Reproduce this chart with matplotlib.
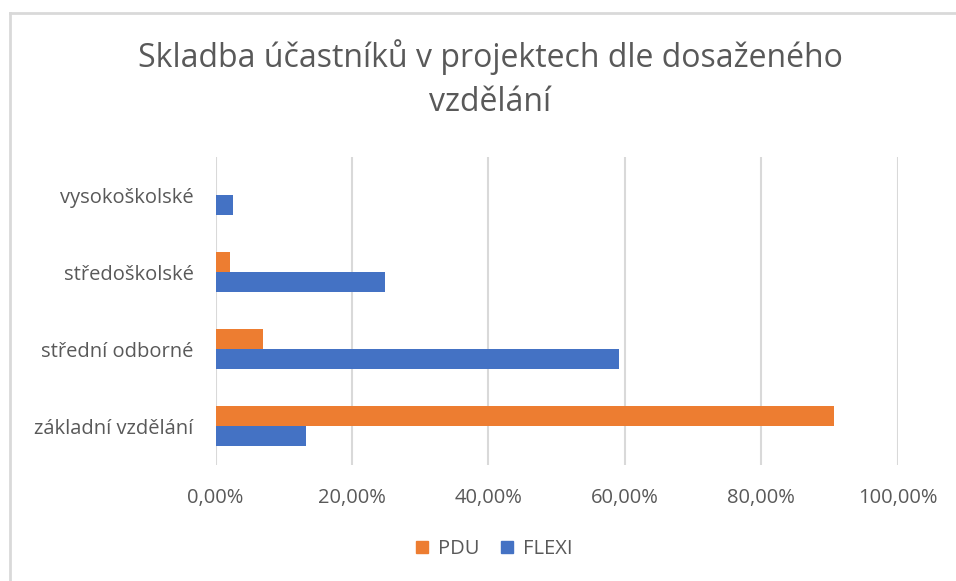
import matplotlib
matplotlib.use("Agg")
import matplotlib.pyplot as plt
from matplotlib.lines import Line2D
from matplotlib.ticker import FuncFormatter
import numpy as np

categories = ["základní vzdělání", "střední odborné", "středoškolské", "vysokoškolské"]
pdu = [0.907, 0.070, 0.021, 0.0]
flexi = [0.132, 0.591, 0.249, 0.025]

orange = "#ed7d31"
blue = "#4472c4"
grey = "#595959"

plt.rcParams["font.family"] = ["Open Sans", "DejaVu Sans"]

fig = plt.figure(figsize=(9.56, 5.81), dpi=100)
ax = fig.add_axes([0.2256, 0.2005, 0.939 - 0.2256, 0.7306 - 0.2005])

y = np.arange(len(categories))
h = 0.26
ax.barh(y + h / 2, pdu, height=h, color=orange, label="PDU", zorder=3)
ax.barh(y - h / 2, flexi, height=h, color=blue, label="FLEXI", zorder=3)

ax.set_xlim(0, 1)
ax.set_ylim(-0.5, 3.5)
ax.set_xticks(np.arange(0, 1.01, 0.2))
ax.xaxis.set_major_formatter(FuncFormatter(lambda v, p: f"{v * 100:.2f}".replace(".", ",") + "%"))
ax.set_yticks(y)
ax.set_yticklabels(categories)
ax.tick_params(axis="both", length=0, labelsize=14.5, colors=grey)
ax.tick_params(axis="x", pad=17)
ax.tick_params(axis="y", pad=16)
ax.grid(axis="x", color="#d9d9d9", linewidth=1.5, zorder=0)
for s in ax.spines.values():
    s.set_visible(False)

fig.text(0.513, 0.864, "Skladba účastníků v projektech dle dosaženého\nvzdělání",
         ha="center", va="center", fontsize=23, color=grey, linespacing=1.42)

handles = [plt.Rectangle((0, 0), 1, 1, color=orange), plt.Rectangle((0, 0), 1, 1, color=blue)]
fig.legend(handles, ["PDU", "FLEXI"], loc="center", bbox_to_anchor=(0.517, 0.055), ncol=2,
           frameon=False, fontsize=14.5, labelcolor=grey, handlelength=0.6, handleheight=0.6,
           handletextpad=0.5, columnspacing=1.1)

# chart border (top and left visible)
fig.add_artist(Line2D([0.0105, 1.0], [1 - 13 / 581, 1 - 13 / 581], color="#d9d9d9", linewidth=2, transform=fig.transFigure))
fig.add_artist(Line2D([0.0105, 0.0105], [0, 1 - 13 / 581], color="#d9d9d9", linewidth=2, transform=fig.transFigure))

fig.savefig("out.png", dpi=100, facecolor="white")
